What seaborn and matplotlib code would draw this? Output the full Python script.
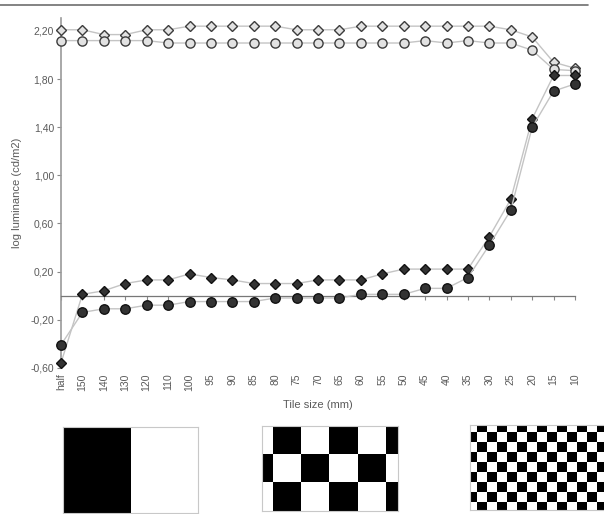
import numpy as np
import pandas as pd
import matplotlib.pyplot as plt
import seaborn as sns
from matplotlib.ticker import FuncFormatter

# tile sizes on the x axis (mm)
tile_sizes = ["half", "150", "140", "130", "120", "110", "100", "95", "90", "85",
              "80", "75", "70", "65", "60", "55", "50", "45", "40", "35",
              "30", "25", "20", "15", "10"]

# log luminance (cd/m2)
white_diamond = [2.21, 2.21, 2.17, 2.17, 2.21, 2.21, 2.24, 2.24, 2.24, 2.24,
                 2.24, 2.21, 2.21, 2.21, 2.24, 2.24, 2.24, 2.24, 2.24, 2.24,
                 2.24, 2.21, 2.15, 1.94, 1.89]
white_circle = [2.12, 2.12, 2.12, 2.12, 2.12, 2.10, 2.10, 2.10, 2.10, 2.10,
                2.10, 2.10, 2.10, 2.10, 2.10, 2.10, 2.10, 2.12, 2.10, 2.12,
                2.10, 2.10, 2.04, 1.88, 1.87]
black_diamond = [-0.56, 0.01, 0.04, 0.10, 0.13, 0.13, 0.18, 0.15, 0.13, 0.10,
                 0.10, 0.10, 0.13, 0.13, 0.13, 0.18, 0.22, 0.22, 0.22, 0.22,
                 0.49, 0.80, 1.47, 1.83, 1.83]
black_circle = [-0.41, -0.14, -0.11, -0.11, -0.08, -0.08, -0.05, -0.05, -0.05, -0.05,
                -0.02, -0.02, -0.02, -0.02, 0.01, 0.01, 0.01, 0.06, 0.06, 0.15,
                0.42, 0.71, 1.40, 1.70, 1.76]

sns.set_style("white")
plt.rcParams['font.family'] = ["Liberation Sans", "DejaVu Sans"]
text_col = "#5a5a5a"

fig = plt.figure(figsize=(6.04, 5.14), dpi=100)
ax = fig.add_axes([0.101, 0.2846, 0.851, 0.6804])

xpos = np.arange(len(tile_sizes))
series = [
    (white_diamond, "D", 5.4, "#e2e2e2", "#3c3c3c"),
    (white_circle, "o", 6.6, "#e2e2e2", "#3c3c3c"),
    (black_diamond, "D", 5.4, "#333333", "#111111"),
    (black_circle, "o", 6.8, "#333333", "#111111"),
]
for i, (vals, mk, ms, fc, ec) in enumerate(series):
    df = pd.DataFrame(dict(x=xpos, y=vals))
    sns.lineplot(data=df, x="x", y="y", ax=ax, color="#c4c4c4", lw=1.0,
                 marker=mk, markersize=ms, markerfacecolor=fc,
                 markeredgecolor=ec, markeredgewidth=1.0, clip_on=False,
                 zorder=3 + i)

ax.set_xlim(0, 24)
ax.set_ylim(-0.6, 2.308)
ax.set_yticks(np.arange(-0.6, 2.21, 0.4))
ax.yaxis.set_major_formatter(FuncFormatter(lambda v, p: f"{v:.2f}".replace(".", ",")))
ax.tick_params(axis="y", length=3, width=0.8, color="#888888", left=True,
               labelsize=7.5, labelcolor=text_col, pad=2)
ax.set_ylabel("log luminance (cd/m2)", fontsize=8, color=text_col, labelpad=6)

for s in ["top", "right"]:
    ax.spines[s].set_visible(False)
ax.spines["left"].set_color("#9a9a9a")
ax.spines["left"].set_linewidth(1.2)
ax.spines["bottom"].set_position(("data", 0))
ax.spines["bottom"].set_color("#777777")
ax.spines["bottom"].set_linewidth(0.9)

ax.set_xticks(xpos)
ax.tick_params(axis="x", bottom=True, length=3, width=0.8, color="#888888",
               labelbottom=False)
ax.set_xlabel("")

sec = ax.secondary_xaxis("bottom")
sec.set_xticks(xpos, labels=tile_sizes)
sec.tick_params(length=0, rotation=90, labelsize=7.5, labelcolor=text_col, pad=4)
sec.spines["bottom"].set_visible(False)
sec.set_xlabel("Tile size (mm)", fontsize=8, color=text_col, labelpad=7)

# frame line at the top of the page
fig.add_artist(plt.Line2D([0, 588 / 604], [1 - 5 / 514] * 2, color="#6e6e6e", lw=1.2))

# stimulus examples: half field, coarse and fine checkerboards
half = np.array([[1, 0]])
rr, cc = np.indices((3, 6))
coarse = (rr + cc) % 2
rr, cc = np.indices((10, 16))
fine = (rr + cc) % 2

panels = [
    ([62.7, 427.3, 135.6, 85.4], half, None, None),
    ([261.7, 426.0, 136.0, 84.7], coarse, (0.61, 5.42), (3.0, 0.0)),
    ([470.0, 425.0, 136.0, 85.0], fine, (0.3, 13.9), (8.8, 0.3)),
]
for (x0, y0, w, h), mat, xl, yl in panels:
    iax = fig.add_axes([x0 / 604, 1 - (y0 + h) / 514, w / 604, h / 514])
    sns.heatmap(mat, ax=iax, cmap="Greys", vmin=0, vmax=1, cbar=False,
                xticklabels=False, yticklabels=False)
    if xl is not None:
        iax.set_xlim(*xl)
        iax.set_ylim(*yl)
    for s in iax.spines.values():
        s.set_visible(True)
        s.set_color("#c8c8c8")
        s.set_linewidth(0.8)

fig.savefig("out.png", dpi=100)
